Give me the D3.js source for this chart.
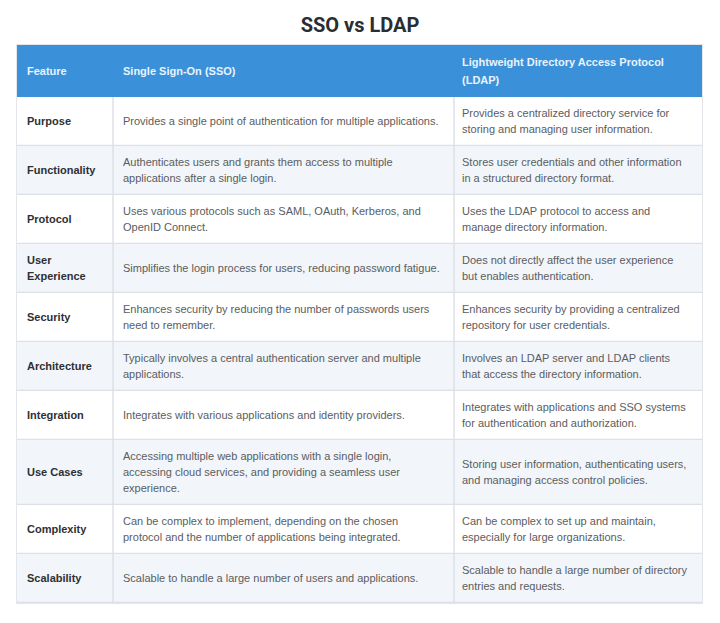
<!DOCTYPE html>
<html>
<head>
<meta charset="utf-8">
<script src="https://cdn.jsdelivr.net/npm/d3@7"></script>
<style>
  body { margin: 0; background: #fff; }
  svg { display: block; }
</style>
</head>
<body>
<svg id="chart" width="720" height="623"></svg>
<script>
// Table content, line breaks as they appear in the picture
var title = 'SSO vs LDAP';
var headers = [
  ['Feature'],
  ['Single Sign-On (SSO)'],
  ['Lightweight Directory Access Protocol', '(LDAP)']
];
var features = [
  ['Purpose'], ['Functionality'], ['Protocol'], ['User', 'Experience'], ['Security'],
  ['Architecture'], ['Integration'], ['Use Cases'], ['Complexity'], ['Scalability']
];
var ssoText = [
  ['Provides a single point of authentication for multiple applications.'],
  ['Authenticates users and grants them access to multiple', 'applications after a single login.'],
  ['Uses various protocols such as SAML, OAuth, Kerberos, and', 'OpenID Connect.'],
  ['Simplifies the login process for users, reducing password fatigue.'],
  ['Enhances security by reducing the number of passwords users', 'need to remember.'],
  ['Typically involves a central authentication server and multiple', 'applications.'],
  ['Integrates with various applications and identity providers.'],
  ['Accessing multiple web applications with a single login,', 'accessing cloud services, and providing a seamless user', 'experience.'],
  ['Can be complex to implement, depending on the chosen', 'protocol and the number of applications being integrated.'],
  ['Scalable to handle a large number of users and applications.']
];
var ldapText = [
  ['Provides a centralized directory service for', 'storing and managing user information.'],
  ['Stores user credentials and other information', 'in a structured directory format.'],
  ['Uses the LDAP protocol to access and', 'manage directory information.'],
  ['Does not directly affect the user experience', 'but enables authentication.'],
  ['Enhances security by providing a centralized', 'repository for user credentials.'],
  ['Involves an LDAP server and LDAP clients', 'that access the directory information.'],
  ['Integrates with applications and SSO systems', 'for authentication and authorization.'],
  ['Storing user information, authenticating users,', 'and managing access control policies.'],
  ['Can be complex to set up and maintain,', 'especially for large organizations.'],
  ['Scalable to handle a large number of directory', 'entries and requests.']
];

var svg = d3.select('#chart');
var tLeft = 17, tRight = 702, tTop = 45, headH = 52;
var lineH = 16;

// column edges
var colX = [tLeft, 113, 454, tRight];
var padX = [10, 10, 8];

// rows: height grows with the longest cell
var rows = features.map(function(f, i) {
  var n = Math.max(f.length, ssoText[i].length, ldapText[i].length);
  return { cells: [f, ssoText[i], ldapText[i]], h: Math.max(49, n * lineH + 17) };
});
var yPos = tTop + headH;
rows.forEach(function(r) { r.y = yPos; yPos += r.h; });
var tBottom = yPos;

svg.append('text')
  .attr('x', 360).attr('y', 32)
  .attr('text-anchor', 'middle')
  .style('font-family', 'Roboto, "Liberation Sans", sans-serif')
  .style('font-weight', 700)
  .style('font-size', '20px')
  .style('fill', '#2a2d31')
  .text(title);

// soft outline around the table
svg.append('rect')
  .attr('x', tLeft - 0.5).attr('y', tTop - 0.5)
  .attr('width', tRight - tLeft + 1).attr('height', tBottom - tTop + 1)
  .style('fill', 'none').style('stroke', '#e3e7ec');

// header
svg.append('rect')
  .attr('x', tLeft).attr('y', tTop)
  .attr('width', tRight - tLeft).attr('height', headH)
  .style('fill', '#3a91d9');

function drawLines(g, lines, x, cy, style, step) {
  var y0 = cy - (lines.length - 1) * step / 2;
  var t = g.append('text')
    .attr('x', x)
    .style('font-family', '"Liberation Sans", Arial, sans-serif')
    .style('font-size', style.size)
    .style('font-weight', style.weight)
    .style('fill', style.fill);
  lines.forEach(function(l, k) {
    t.append('tspan').attr('x', x).attr('y', y0 + k * step).attr('dy', '0.35em').text(l);
  });
}

var head = svg.append('g');
headers.forEach(function(h, j) {
  drawLines(head, h, colX[j] + padX[j], tTop + headH / 2,
    { size: '11px', weight: 700, fill: '#e8f3fd' }, 18);
});

// body rows
var body = svg.selectAll('g.row')
  .data(rows)
  .enter().append('g')
  .attr('class', 'row');

body.append('rect')
  .attr('x', tLeft).attr('y', function(d) { return d.y; })
  .attr('width', tRight - tLeft).attr('height', function(d) { return d.h; })
  .style('fill', function(d, i) { return i % 2 ? '#f2f5f9' : '#ffffff'; });

body.append('line')
  .attr('x1', tLeft).attr('x2', tRight)
  .attr('y1', function(d) { return d.y + d.h - 0.5; })
  .attr('y2', function(d) { return d.y + d.h - 0.5; })
  .style('stroke', '#dce1e7').style('stroke-width', 1.5);

body.each(function(d) {
  var g = d3.select(this);
  d.cells.forEach(function(lines, j) {
    drawLines(g, lines, colX[j] + padX[j], d.y + d.h / 2,
      j === 0 ? { size: '11px', weight: 700, fill: '#2e3033' }
              : { size: '11px', weight: 400, fill: '#5a5d61' }, lineH);
  });
});

// column dividers
svg.selectAll('line.col')
  .data(colX.slice(1, 3))
  .enter().append('line')
  .attr('class', 'col')
  .attr('x1', function(d) { return d; }).attr('x2', function(d) { return d; })
  .attr('y1', tTop + headH).attr('y2', tBottom)
  .style('stroke', '#dce1e7').style('stroke-width', 1.5);
</script>
</body>
</html>
